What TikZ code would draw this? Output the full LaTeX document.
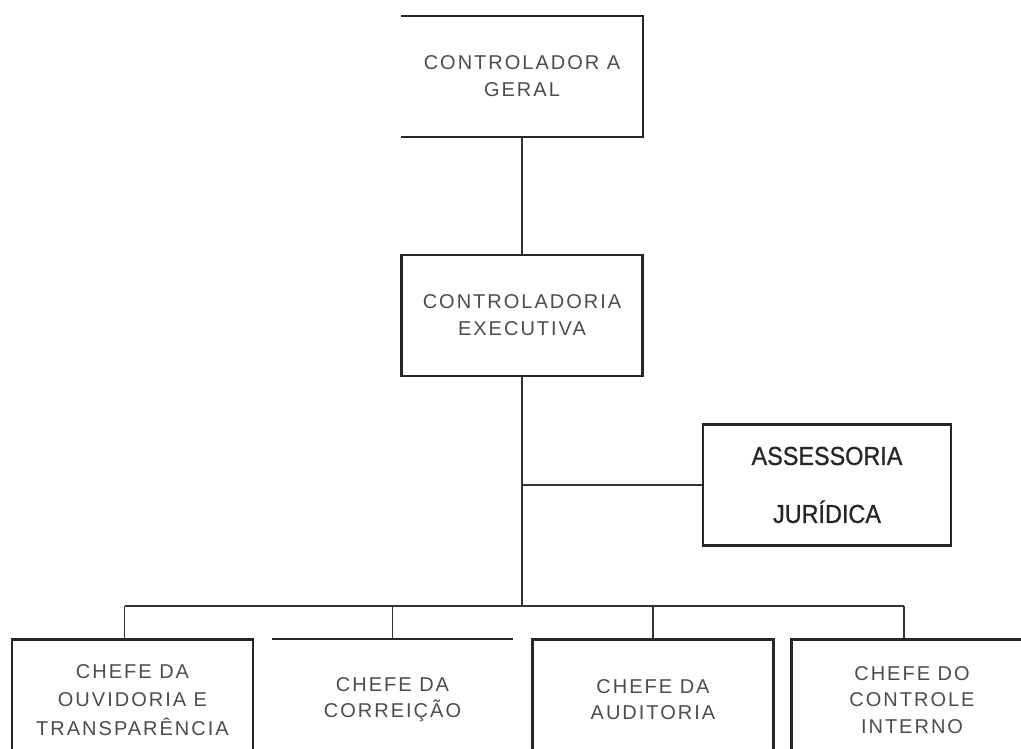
\documentclass[tikz,border=0pt]{standalone}
\usepackage{fontspec}
\setmainfont[LetterSpace=10]{Liberation Sans}
\newfontfamily\jurfont[FakeStretch=0.9,FakeBold=0.8]{Liberation Sans}

\begin{document}
\begin{tikzpicture}[x=1pt, y=-1pt,
	unit/.style={minimum width=241pt, minimum height=121pt, inner sep=0pt, align=center,
		text=black!70, font=\fontsize{20}{27}\selectfont},
	frame/.style={draw=black!85, line width=2.2pt},
	wire/.style={draw=black!80, line width=1.4pt}]
	\useasboundingbox (0,0) rectangle (1021,749);
	\clip (0,0) rectangle (1021,749);
	% topo
	\node[unit] (geral) at (522,76.5) {CONTROLADOR A\\GERAL};
	\draw[frame] (geral.north west) -- (geral.north east) -- (geral.south east) -- (geral.south west);
	\node[unit, frame] (exec) at (522,315.5) {CONTROLADORIA\\EXECUTIVA};
	\node[unit, frame, minimum width=248pt, text=black!85, font=\jurfont\fontsize{26}{58}\selectfont] (jur) at (827,485) {ASSESSORIA\\JURÍDICA};
	% chefias
	\node[unit, frame, font=\fontsize{20}{28.5}\selectfont] (ouv) at (132.5,700) {CHEFE DA\\OUVIDORIA E\\TRANSPARÊNCIA};
	\node[unit, font=\fontsize{20}{26}\selectfont] (corr) at (392.5,700) {CHEFE DA\\CORREIÇÃO};
	\draw[frame] (corr.north west) -- (corr.north east);
	\node[unit, frame, font=\fontsize{20}{26}\selectfont] (aud) at (653,700) {CHEFE DA\\AUDITORIA};
	\node[unit, frame, font=\fontsize{20}{26.5}\selectfont] (ctrl) at (912,700) {CHEFE DO\\CONTROLE\\INTERNO};
	% ligacoes
	\coordinate (hub) at (522,606);
	\draw[wire] (geral.south) -- (exec.north);
	\draw[wire] (exec.south) -- (hub);
	\draw[wire] (exec.south |- jur.west) -- (jur.west);
	\draw[wire] ([xshift=-8pt]ouv.north |- hub) -- ([xshift=-8pt]ctrl.north |- hub);
	\foreach \u/\dx in {ouv/-8, corr/0, aud/0, ctrl/-8}
		\draw[wire] ([xshift=\dx pt]\u.north |- hub) -- ([xshift=\dx pt]\u.north);
\end{tikzpicture}
\end{document}
